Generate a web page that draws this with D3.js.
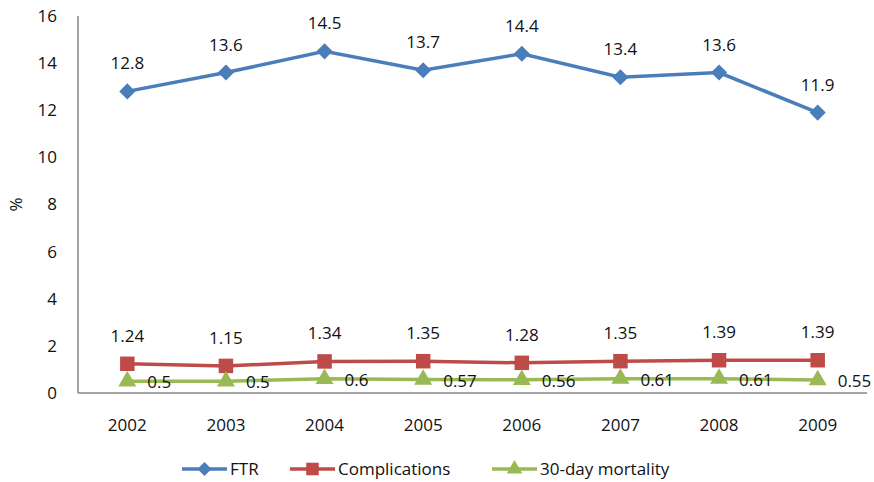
<!DOCTYPE html>
<html>
<head>
<meta charset="utf-8">
<script src="https://cdn.jsdelivr.net/npm/d3@7"></script>
<style>
  body { margin: 0; background: #fff; }
  text { font-family: "Open Sans", "DejaVu Sans", sans-serif; fill: #111; }
</style>
</head>
<body>
<div id="chart"></div>
<script>
var years = ["2002", "2003", "2004", "2005", "2006", "2007", "2008", "2009"];
var ftr = [12.8, 13.6, 14.5, 13.7, 14.4, 13.4, 13.6, 11.9];
var complications = [1.24, 1.15, 1.34, 1.35, 1.28, 1.35, 1.39, 1.39];
var mortality = [0.5, 0.5, 0.6, 0.57, 0.56, 0.61, 0.61, 0.55];
var yTicks = [0, 2, 4, 6, 8, 10, 12, 14, 16];

var width = 874, height = 482,
    margin = {top: 16, right: 7, bottom: 89, left: 78};

var series = [
  {name: "FTR", values: ftr, color: "#4a7ebb", shape: d3.symbolSquare, rot: 45, size: 130, label: "above"},
  {name: "Complications", values: complications, color: "#be4b48", shape: d3.symbolSquare, rot: 0, size: 210, label: "above"},
  {name: "30-day mortality", values: mortality, color: "#98b954", shape: d3.symbolTriangle, rot: 0, size: 140, label: "right"}
];

var svg = d3.select("#chart").append("svg")
  .attr("width", width)
  .attr("height", height);

var x = d3.scaleBand()
  .domain(years)
  .range([margin.left, width - margin.right]);

var y = d3.scaleLinear()
  .domain([0, 16])
  .range([height - margin.bottom, margin.top]);

// axes
svg.append("line")
  .attr("x1", margin.left).attr("x2", margin.left)
  .attr("y1", y(16)).attr("y2", y(0))
  .style("stroke", "#868686").style("stroke-width", 1.5);
svg.append("line")
  .attr("x1", margin.left).attr("x2", width - margin.right)
  .attr("y1", y(0)).attr("y2", y(0))
  .style("stroke", "#868686").style("stroke-width", 1.5);

svg.selectAll(".ytick").data(yTicks).enter().append("text")
  .attr("x", 57)
  .attr("y", function(d) { return y(d); })
  .attr("dy", "0.35em")
  .attr("text-anchor", "end")
  .style("font-size", "17px")
  .text(function(d) { return d; });

svg.selectAll(".xtick").data(years).enter().append("text")
  .attr("x", function(d) { return x(d) + x.bandwidth() / 2; })
  .attr("y", y(0) + 38)
  .attr("text-anchor", "middle")
  .style("font-size", "17px")
  .text(function(d) { return d; });

svg.append("text")
  .attr("transform", "translate(22," + y(8) + ") rotate(-90)")
  .attr("text-anchor", "middle")
  .style("font-size", "17px")
  .text("%");

var line = d3.line()
  .x(function(d, i) { return x(years[i]) + x.bandwidth() / 2; })
  .y(function(d) { return y(d); });

series.forEach(function(s) {
  svg.append("path")
    .datum(s.values)
    .attr("d", line)
    .style("fill", "none")
    .style("stroke", s.color)
    .style("stroke-width", 3.5);

  svg.selectAll(null).data(s.values).enter().append("path")
    .attr("d", d3.symbol().type(s.shape).size(s.size))
    .attr("transform", function(d, i) {
      return "translate(" + (x(years[i]) + x.bandwidth() / 2) + "," + y(d) + ") rotate(" + s.rot + ")";
    })
    .style("fill", s.color);

  svg.selectAll(null).data(s.values).enter().append("text")
    .attr("x", function(d, i) {
      return x(years[i]) + x.bandwidth() / 2 + (s.label == "right" ? 20 : 0);
    })
    .attr("y", function(d) { return s.label == "right" ? y(d) + 7 : y(d) - 22; })
    .attr("text-anchor", s.label == "right" ? "start" : "middle")
    .style("font-size", "17px")
    .text(function(d) { return d; });
});

// legend
var legendX = [182, 290, 492];
var legend = svg.selectAll(".legend").data(series).enter().append("g")
  .attr("transform", function(d, i) { return "translate(" + legendX[i] + ",469)"; });
legend.append("line")
  .attr("x1", 0).attr("x2", 45)
  .style("stroke", function(d) { return d.color; })
  .style("stroke-width", 3.5);
legend.append("path")
  .attr("transform", function(d) { return "translate(22.5,0) rotate(" + d.rot + ")"; })
  .attr("d", function(d) { return d3.symbol().type(d.shape).size(d.size * 0.75)(); })
  .style("fill", function(d) { return d.color; });
legend.append("text")
  .attr("x", 48)
  .attr("dy", "0.35em")
  .style("font-size", "17px")
  .text(function(d) { return d.name; });
</script>
</body>
</html>
